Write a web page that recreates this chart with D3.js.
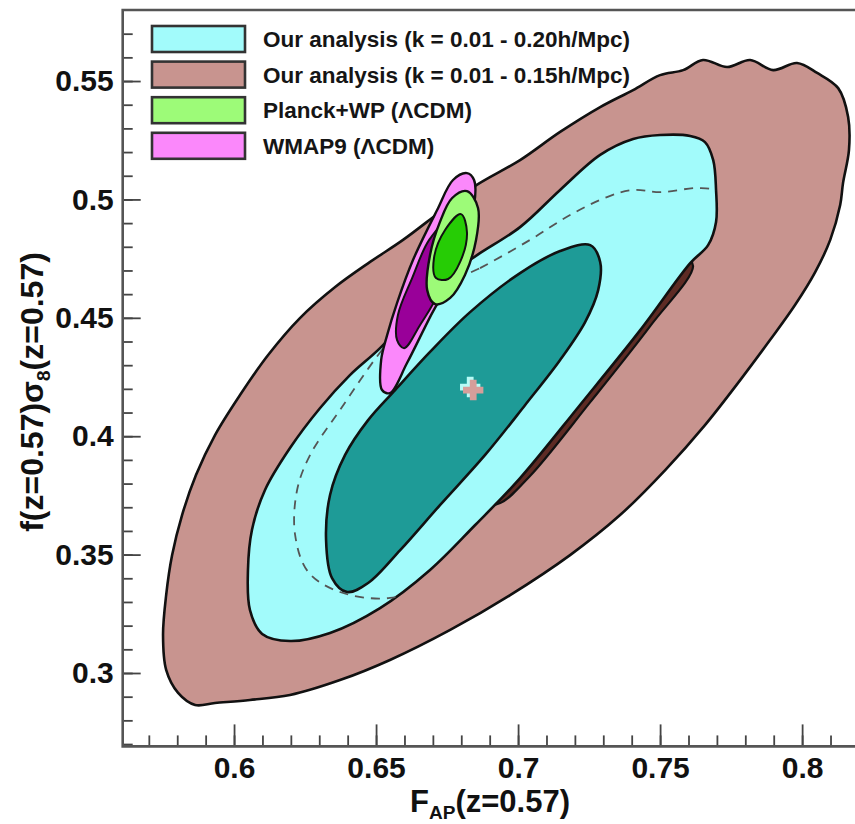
<!DOCTYPE html>
<html><head><meta charset="utf-8">
<script src="https://cdn.jsdelivr.net/npm/d3@7"></script>
<style>
html,body{margin:0;padding:0;background:#fff;}
svg{display:block;}
text{font-family:"Liberation Sans",Arial,Helvetica,sans-serif;font-weight:bold;}
</style></head>
<body>
<svg id="chart" width="855" height="824"></svg>
<script>
// ---------- data ----------
const xTickValues = [0.6, 0.65, 0.7, 0.75, 0.8];
const xTickLabels = ["0.6", "0.65", "0.7", "0.75", "0.8"];
const yTickValues = [0.3, 0.35, 0.4, 0.45, 0.5, 0.55];
const yTickLabels = ["0.3", "0.35", "0.4", "0.45", "0.5", "0.55"];
const xMinorValues = d3.range(57, 83).map(v => v / 100);
const yMinorValues = d3.range(27, 58).map(v => v / 100);

const legendLabels = [
  "Our analysis (k = 0.01 - 0.20h/Mpc)",
  "Our analysis (k = 0.01 - 0.15h/Mpc)",
  "Planck+WP (\u039BCDM)",
  "WMAP9 (\u039BCDM)"
];

// 2-sigma contour, k = 0.01-0.15 h/Mpc  [F_AP, f sigma8]
const k015Outer = [
  [0.7007,0.5166],[0.7148,0.5285],[0.7289,0.5390],[0.7405,0.5462],[0.7500,0.5525],
  [0.7581,0.5546],[0.7651,0.5589],[0.7736,0.5559],[0.7817,0.5589],[0.7898,0.5546],
  [0.7982,0.5576],[0.8053,0.5534],[0.8127,0.5470],[0.8162,0.5348],[0.8165,0.5209],
  [0.8144,0.5069],[0.8134,0.4976],[0.8099,0.4829],[0.8046,0.4693],[0.7975,0.4554],
  [0.7887,0.4406],[0.7782,0.4237],[0.7658,0.4047],[0.7518,0.3857],[0.7359,0.3667],
  [0.7183,0.3498],[0.6972,0.3329],[0.6761,0.3182],[0.6549,0.3055],[0.6373,0.2970],
  [0.6197,0.2907],[0.6056,0.2886],[0.5933,0.2873],[0.5863,0.2865],[0.5803,0.2916],
  [0.5761,0.3013],[0.5750,0.3160],[0.5761,0.3329],[0.5782,0.3498],[0.5817,0.3667],
  [0.5866,0.3836],[0.5933,0.4005],[0.6021,0.4174],[0.6120,0.4343],[0.6232,0.4499],
  [0.6356,0.4630],[0.6479,0.4736],[0.6595,0.4829],[0.6725,0.4947],[0.6849,0.5057]
];
// 1-sigma contour, k = 0.01-0.15 h/Mpc
const k015Inner = [
  [0.7585,0.4761],[0.7616,0.4719],[0.7465,0.4465],[0.7254,0.4144],[0.7042,0.3832],
  [0.6937,0.3718],[0.6866,0.3709],[0.7077,0.3984],[0.7359,0.4406],[0.7518,0.4660]
];
// 2-sigma contour, k = 0.01-0.20 h/Mpc
const k020Outer = [
  [0.6831,0.4744],[0.7007,0.4883],[0.7148,0.5040],[0.7289,0.5188],[0.7405,0.5255],
  [0.7500,0.5272],[0.7606,0.5268],[0.7658,0.5242],[0.7687,0.5166],[0.7697,0.5040],
  [0.7697,0.4905],[0.7669,0.4807],[0.7606,0.4731],[0.7430,0.4448],[0.7218,0.4132],
  [0.7007,0.3823],[0.6849,0.3625],[0.6690,0.3435],[0.6514,0.3274],[0.6338,0.3169],
  [0.6197,0.3135],[0.6099,0.3165],[0.6056,0.3266],[0.6049,0.3435],[0.6063,0.3604],
  [0.6109,0.3773],[0.6197,0.3950],[0.6303,0.4119],[0.6408,0.4258],[0.6514,0.4372],
  [0.6655,0.4554],[0.6743,0.4651]
];
// 1-sigma contour, k = 0.01-0.20 h/Mpc
const k020Inner = [
  [0.7254,0.4807],[0.7289,0.4736],[0.7282,0.4617],[0.7236,0.4482],[0.7148,0.4322],
  [0.7025,0.4132],[0.6884,0.3921],[0.6725,0.3709],[0.6585,0.3519],[0.6472,0.3380],
  [0.6398,0.3342],[0.6345,0.3401],[0.6324,0.3562],[0.6338,0.3752],[0.6391,0.3921],
  [0.6472,0.4068],[0.6567,0.4195],[0.6690,0.4356],[0.6831,0.4524],[0.7007,0.4689],
  [0.7148,0.4782]
];
// dashed contour
const k020Dashed = [
  [0.6743,0.4639],[0.6866,0.4710],[0.7042,0.4829],[0.7183,0.4934],[0.7313,0.5010],
  [0.7405,0.5040],[0.7500,0.5031],[0.7641,0.5048],[0.7729,0.5027],[0.7775,0.4947],
  [0.7711,0.4744],[0.7570,0.4533],[0.7359,0.4195],[0.7148,0.3900],[0.6937,0.3604],
  [0.6725,0.3393],[0.6549,0.3317],[0.6373,0.3342],[0.6261,0.3427],[0.6215,0.3583],
  [0.6222,0.3773],[0.6268,0.3921],[0.6373,0.4111],[0.6549,0.4406]
];
// WMAP9 contours
const wmapOuter = [
  [0.6820,0.5111],[0.6845,0.5082],[0.6845,0.4976],[0.6768,0.4681],[0.6690,0.4503],
  [0.6609,0.4309],[0.6549,0.4182],[0.6521,0.4195],[0.6518,0.4322],[0.6539,0.4427],
  [0.6574,0.4563],[0.6630,0.4744],[0.6715,0.4955],[0.6771,0.5082]
];
const wmapInner = [
  [0.6750,0.4905],[0.6778,0.4850],[0.6725,0.4617],[0.6655,0.4470],[0.6599,0.4372],
  [0.6574,0.4406],[0.6577,0.4512],[0.6627,0.4668],[0.6687,0.4829]
];
// Planck+WP contours
const planckOuter = [
  [0.6820,0.5035],[0.6859,0.4964],[0.6852,0.4829],[0.6813,0.4681],[0.6761,0.4584],
  [0.6708,0.4558],[0.6680,0.4617],[0.6690,0.4765],[0.6725,0.4905],[0.6768,0.5006]
];
const planckInner = [
  [0.6799,0.4938],[0.6820,0.4862],[0.6796,0.4736],[0.6754,0.4664],[0.6711,0.4668],
  [0.6704,0.4753],[0.6743,0.4871]
];
const bestFit = [0.6842, 0.4195];

// ---------- layout ----------
const W = 855, H = 824;
const plot = {left: 122.7, right: 870, top: 10, bottom: 746.4};
const x = d3.scaleLinear().domain([0.5608, 0.8239]).range([plot.left, plot.right]);
const y = d3.scaleLinear().domain([0.269, 0.58]).range([plot.bottom, plot.top]);

const svg = d3.select("#chart");
const defs = svg.append("defs");
defs.append("clipPath").attr("id","plotclip").append("rect")
  .attr("x",plot.left).attr("y",plot.top)
  .attr("width",plot.right-plot.left).attr("height",plot.bottom-plot.top);

const line = d3.line().x(d => x(d[0])).y(d => y(d[1])).curve(d3.curveCatmullRomClosed.alpha(0.5));
defs.append("clipPath").attr("id","cyanclip").append("path").attr("d", line(k020Outer));

const g = svg.append("g").attr("clip-path","url(#plotclip)");

function contour(data, fill, sw) {
  g.append("path").attr("d", line(data)).attr("fill", fill)
    .attr("stroke", "#111").attr("stroke-width", sw).attr("stroke-linejoin","round");
}
contour(k015Outer, "#c8948f", 2.6);
contour(k015Inner, "#5e2b24", 2.2);
contour(k020Outer, "#a2fbfb", 2.6);
g.append("g").attr("clip-path","url(#cyanclip)").append("path")
  .attr("d", line(k020Dashed)).attr("fill","none").attr("stroke","#555")
  .attr("stroke-width",1.8).attr("stroke-dasharray","9,7");
contour(k020Inner, "#1e9b97", 2.6);
contour(wmapOuter, "#fb88fb", 2.4);
contour(wmapInner, "#990099", 2.0);
contour(planckOuter, "#9dfb78", 2.4);
contour(planckInner, "#26cc05", 2.0);

// best-fit cross
const cross = d3.symbol().type(d3.symbolCross).size(230);
g.append("path").attr("d", cross())
  .attr("transform", `translate(${x(bestFit[0]) - 3},${y(bestFit[1]) - 3})`)
  .attr("fill", "#b8fbf6");
g.append("path").attr("d", cross())
  .attr("transform", `translate(${x(bestFit[0])},${y(bestFit[1])})`)
  .attr("fill", "#d69e9a");

// ---------- axes ----------
const axisColor = "#444";
const xAxisMinor = d3.axisBottom(x).tickValues(xMinorValues).tickSize(-11).tickFormat("");
const xAxisMajor = d3.axisBottom(x).tickValues(xTickValues).tickSize(-22).tickPadding(10)
  .tickFormat((d, i) => xTickLabels[i]);
const yAxisMinor = d3.axisLeft(y).tickValues(yMinorValues).tickSize(-10).tickFormat("");
const yAxisMajor = d3.axisLeft(y).tickValues(yTickValues).tickSize(-18).tickPadding(9)
  .tickFormat((d, i) => yTickLabels[i]);

function styleAxis(sel) {
  sel.select(".domain").remove();
  sel.selectAll("line").attr("stroke", axisColor).attr("stroke-width", 1.8);
  sel.selectAll("text").attr("fill", "#111").style("font-size", "30px")
    .style("font-family", "'Liberation Sans',Arial,sans-serif").style("font-weight", "bold");
}
svg.append("g").attr("transform", `translate(0,${plot.bottom})`).call(xAxisMinor).call(styleAxis);
svg.append("g").attr("transform", `translate(0,${plot.bottom})`).call(xAxisMajor).call(styleAxis);
svg.append("g").attr("transform", `translate(${plot.left},0)`).call(yAxisMinor).call(styleAxis);
svg.append("g").attr("transform", `translate(${plot.left},0)`).call(yAxisMajor).call(styleAxis);

// frame
svg.append("path")
  .attr("d", `M${plot.right},${plot.top}H${plot.left}V${plot.bottom}H${plot.right}`)
  .attr("fill","none").attr("stroke","#555").attr("stroke-width",2.6);

// axis titles
const xt = svg.append("text").attr("x", 490).attr("y", 812).attr("text-anchor","middle")
  .style("font-size","31px").attr("fill","#111");
xt.append("tspan").text("F");
xt.append("tspan").text("AP").attr("dy", 7).style("font-size","19px");
xt.append("tspan").text("(z=0.57)").attr("dy", -7);

const yt = svg.append("text").attr("transform","translate(43,392) rotate(-90)")
  .attr("text-anchor","middle").style("font-size","32px").attr("fill","#111");
yt.append("tspan").text("f(z=0.57)\u03C3");
yt.append("tspan").text("8").attr("dy", 7).style("font-size","19px");
yt.append("tspan").text("(z=0.57)").attr("dy", -7);

// ---------- legend ----------
const legendFills = ["#a2fbfb", "#c8948f", "#9dfb78", "#fb88fb"];
const leg = svg.append("g");
legendLabels.forEach((lab, i) => {
  const cy = 39 + i * 35.6;
  leg.append("rect").attr("x", 152).attr("y", cy - 13).attr("width", 93).attr("height", 26)
    .attr("fill", legendFills[i]).attr("stroke", "#333").attr("stroke-width", 2.6);
  leg.append("text").attr("x", 263).attr("y", cy + 8).text(lab)
    .style("font-size", "22.5px").attr("fill", "#151515");
});
</script>
</body></html>
